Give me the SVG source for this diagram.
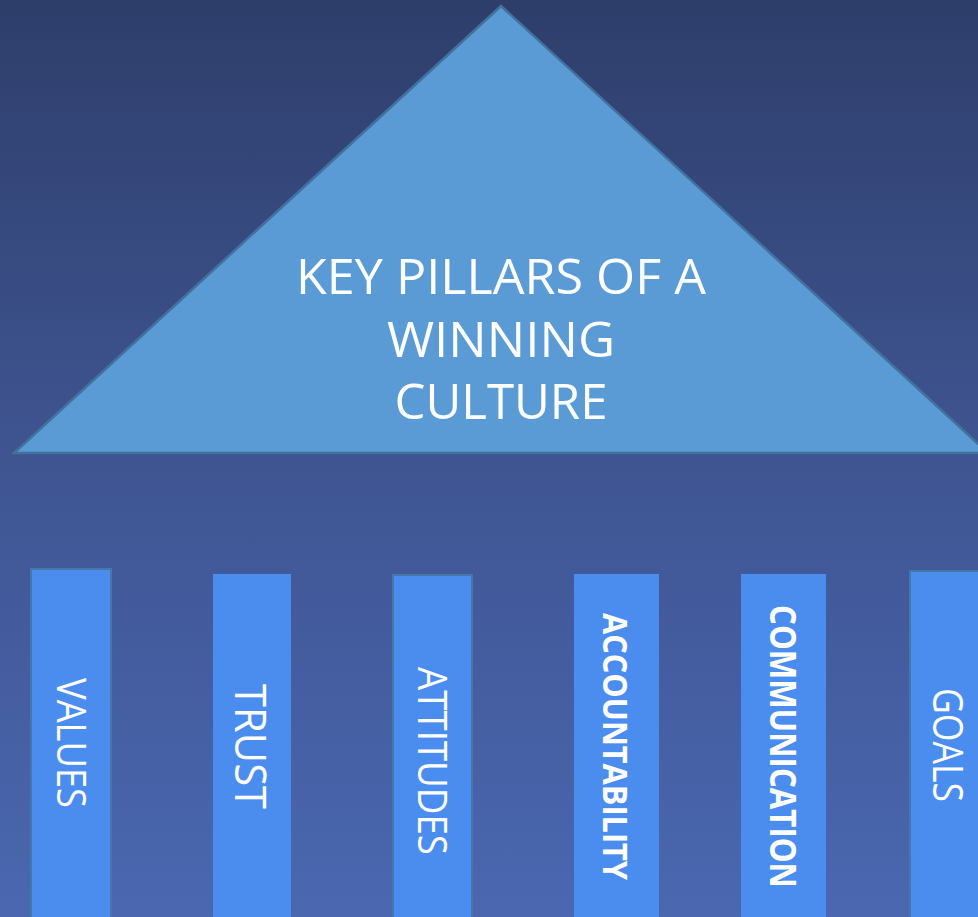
<svg xmlns="http://www.w3.org/2000/svg" width="978" height="917" viewBox="0 0 978 917">
<defs>
<linearGradient id="bg" x1="0" y1="0" x2="0" y2="1">
<stop offset="0" stop-color="#2e3e6b"/>
<stop offset="0.5" stop-color="#3f5592"/>
<stop offset="1" stop-color="#4a67b0"/>
</linearGradient>
<style>
.pillar{fill:#4b8def;}
.edged{stroke:#4478a8;stroke-width:2;}
.ptext{font-family:"Open Sans","Liberation Sans",sans-serif;fill:#ffffff;text-anchor:middle;}
.title{font-family:"Open Sans","Liberation Sans",sans-serif;fill:#ffffff;text-anchor:middle;font-size:50px;}
</style>
</defs>
<rect x="0" y="0" width="978" height="917" fill="url(#bg)"/>
<g id="roof">
<polygon points="501,6 988,453 14,453" fill="#5b9bd5" stroke="#41719c" stroke-width="2.5" stroke-linejoin="miter"/>
<text class="title" x="501" y="294" textLength="410" lengthAdjust="spacingAndGlyphs">KEY PILLARS OF A</text>
<text class="title" x="501" y="357" textLength="228" lengthAdjust="spacingAndGlyphs">WINNING</text>
<text class="title" x="501" y="419" textLength="213" lengthAdjust="spacingAndGlyphs">CULTURE</text>
</g>
<g id="values">
<rect class="pillar edged" x="31" y="569" width="80" height="350"/>
<text class="ptext" transform="translate(71,743) rotate(90)" x="0" y="14.5" font-size="40" textLength="130" lengthAdjust="spacingAndGlyphs">VALUES</text>
</g>
<g id="trust">
<rect class="pillar" x="213" y="574" width="78" height="345"/>
<text class="ptext" transform="translate(251,746.5) rotate(90)" x="0" y="16" font-size="44" textLength="125" lengthAdjust="spacingAndGlyphs">TRUST</text>
</g>
<g id="attitudes">
<rect class="pillar edged" x="393" y="575" width="79" height="344"/>
<text class="ptext" transform="translate(432,761) rotate(90)" x="0" y="14.5" font-size="40" textLength="188" lengthAdjust="spacingAndGlyphs">ATTITUDES</text>
</g>
<g id="accountability">
<rect class="pillar" x="574" y="574" width="85" height="345"/>
<text class="ptext" transform="translate(615,746.5) rotate(90)" x="0" y="12" font-size="34" font-weight="bold" textLength="267" lengthAdjust="spacingAndGlyphs">ACCOUNTABILITY</text>
</g>
<g id="communication">
<rect class="pillar" x="741" y="574" width="85" height="345"/>
<text class="ptext" transform="translate(783,746.5) rotate(90)" x="0" y="13" font-size="36" font-weight="bold" textLength="283" lengthAdjust="spacingAndGlyphs">COMMUNICATION</text>
</g>
<g id="goals">
<rect class="pillar edged" x="910" y="571" width="80" height="348"/>
<text class="ptext" transform="translate(948,745) rotate(90)" x="0" y="15" font-size="42" textLength="114" lengthAdjust="spacingAndGlyphs">GOALS</text>
</g>
<g id="connectors"></g>
</svg>
